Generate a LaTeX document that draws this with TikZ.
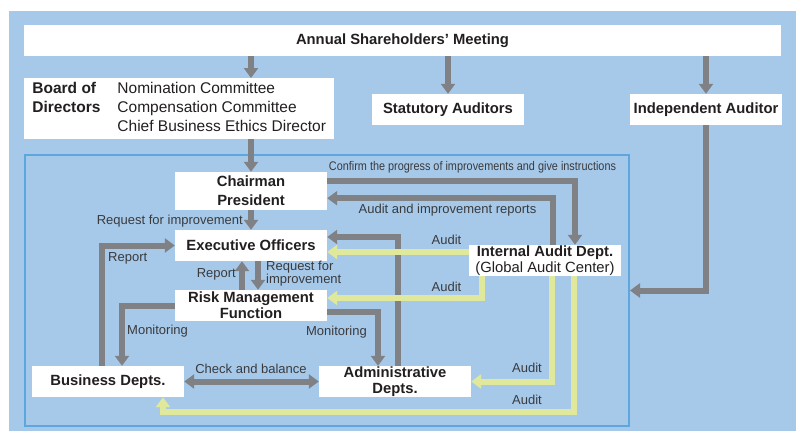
\documentclass[tikz,border=0pt]{standalone}
\usepackage{fontspec}
\setmainfont{Liberation Sans}
\usepackage{graphicx}
\usetikzlibrary{arrows.meta}
\definecolor{GovBlue}{HTML}{A6C9EA}
\definecolor{GovFrame}{HTML}{5CA7DD}
\definecolor{GovGray}{HTML}{808184}
\definecolor{GovYellow}{HTML}{E0E99B}
\definecolor{GovText}{HTML}{231F20}
\definecolor{GovLabel}{HTML}{3A3A3C}

\begin{document}
\begin{tikzpicture}[
  x=1pt,y=-1pt,
  box/.style={fill=white,inner sep=0pt,minimum width=152pt,minimum height=31pt,align=center,text=GovText,font=\fontsize{14.8}{16}\selectfont\bfseries},
  lbl/.style={inner sep=0pt,text=GovLabel,font=\fontsize{13}{13}\selectfont},
  garr/.style={draw=GovGray,line width=6pt,-{Triangle[width=14pt,length=10pt]}},
  yarr/.style={garr,draw=GovYellow}
]
\useasboundingbox (0,0) rectangle (796,431);
\fill[GovBlue] (9,11) rectangle (796,431);
\node[draw=GovFrame,line width=2pt,inner sep=0pt,minimum width=604pt,minimum height=271pt] (group) at (327,290.5) {};

\node[box,minimum width=757pt] (agm) at (402.5,40.5) {Annual Shareholders' Meeting};
\node[box,anchor=north west,minimum width=310pt,minimum height=61pt,font=\fontsize{15.5}{19}\selectfont] (board) at (24,78)
  {\begin{tabular}{@{}l@{\hspace{17pt}}l@{}}\textbf{Board of}&Nomination Committee\\\textbf{Directors}&Compensation Committee\\&Chief Business Ethics Director\end{tabular}};
\node[box] (stat) at (448,109.5) {Statutory Auditors};
\node[box] (indep) at (706,109.5) {Independent Auditor};
\node[box,minimum height=38pt,font=\fontsize{14.8}{19}\selectfont\bfseries] (chair) at (251,191) {Chairman\\President};
\node[box] (exec) at (251,245.5) {Executive Officers};
\node[box] (risk) at (251,305.5) {Risk Management\\Function};
\node[box] (business) at (108,381.5) {Business Depts.};
\node[box] (admin) at (395,381.5) {Administrative\\Depts.};
\node[box,font=\fontsize{14.8}{16}\selectfont] (internal) at (545,260.5) {\textbf{Internal Audit Dept.}\\(Global Audit Center)};

\draw[garr] (chair.north |- agm.south) -- (chair.north |- board.north);
\draw[garr] (stat.north |- agm.south) -- (stat);
\draw[garr] (indep.north |- agm.south) -- (indep);
\draw[garr] (indep.south) |- (group.east);
\draw[garr] (chair.north |- board.south) -- (chair);
\draw[garr] ([yshift=-9pt]chair.north east) -| ([xshift=30pt]internal.north);
\draw[garr] ([xshift=8pt]internal.north) |- ([yshift=12pt]chair.south east);
\draw[garr] (chair) -- (exec);
\draw[garr] ([xshift=-6pt]business.north) |- (exec.west);
\draw[garr] ([xshift=-9pt]risk.north) -- ([xshift=-9pt]exec.south);
\draw[garr] ([xshift=7pt]exec.south) -- ([xshift=7pt]risk.north);
\draw[garr] (risk.west) -| ([xshift=14pt]business.north);
\draw[garr] ([yshift=-6.5pt]risk.east) -| ([xshift=-17pt]admin.north);
\draw[garr,{Triangle[width=14pt,length=10pt]}-{Triangle[width=14pt,length=10pt]}] (business) -- (admin);
\draw[garr] ([xshift=3pt]admin.north) |- ([yshift=8.5pt]exec.east);

\draw[yarr] ([yshift=8.5pt]internal.west) -- ([yshift=-6.5pt]exec.east);
\draw[yarr] ([xshift=-63pt]internal.south) |- ([yshift=7.5pt]risk.east);
\draw[yarr] ([xshift=7pt]internal.south) |- (admin.east);
\draw[yarr] ([xshift=29pt]internal.south) |- ([xshift=55pt,yshift=-15pt]business.south) -- ([xshift=55pt]business.south);

\node[lbl,font=\fontsize{12.5}{13}\selectfont] (lconfirm) at (472.5,167) {\scalebox{0.87}[1]{Confirm the progress of improvements and give instructions}};
\node[lbl] (lreports) at (447.5,210) {Audit and improvement reports};
\node[lbl,anchor=east] (lrequest) at (243,221) {Request for improvement};
\node[lbl,anchor=west] (lreportb) at (108,258) {Report};
\node[lbl,anchor=east] (lreportr) at (236,274) {Report};
\node[lbl,anchor=west,align=left,font=\fontsize{13}{12}\selectfont] (lrequestr) at (266,274) {Request for\\improvement};
\node[lbl,anchor=west] (lmonb) at (127,331) {Monitoring};
\node[lbl,anchor=east] (lmona) at (367,332) {Monitoring};
\node[lbl] (lcheck) at (251,369) {Check and balance};
\node[lbl] (lauditx) at (446.5,240) {Audit};
\node[lbl] (lauditr) at (446.5,287) {Audit};
\node[lbl] (laudita) at (527,368) {Audit};
\node[lbl] (lauditb) at (527,400) {Audit};
\end{tikzpicture}
\end{document}
